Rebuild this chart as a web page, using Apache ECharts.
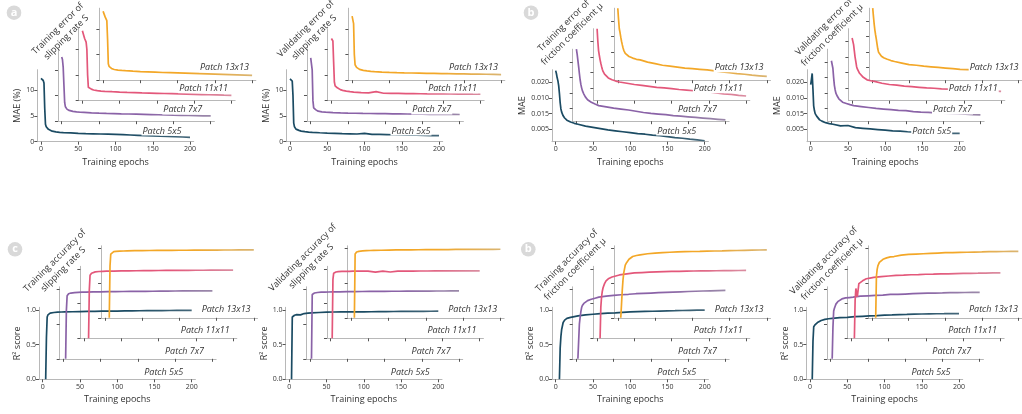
<!DOCTYPE html>
<html><head><meta charset="utf-8">
<script src="https://cdn.jsdelivr.net/npm/echarts/dist/echarts.min.js"></script>
<style>html,body{margin:0;padding:0;background:#fff}#c{width:1022px;height:414px}</style>
</head><body><div id="c"></div>
<script>
// ---------- DATA ----------
const EPOCHS = [0,1,2,3,4,5,6,7,8,10,12,15,20,25,30,40,50,60,70,80,90,100,110,120,130,140,150,160,170,180,190,200];
const PATCHES = ['Patch 5x5','Patch 7x7','Patch 11x11','Patch 13x13'];
const X_TICKS = [0,50,100,150,200];
const SLIP_TICKS = [0,5,10];
const FRIC_TICK_VALUES = [0.005,0.010,0.015,0.020];
const FRIC_TICK_LABELS = ['0.005','0.015','0.010','0.020'];
const R2_TICKS = [0,0.5,1.0];
const R2_TICK_LABELS = ['0.0','0.5','1.0'];

// Training error of slipping rate S (MAE %)
const TRAIN_ERR_S_5 = [12.3,12.2,12.1,11.9,11.4,6.5,3.4,2.9,2.65,2.4,2.2,2.05,1.9,1.82,1.76,1.7,1.63,1.58,1.54,1.5,1.46,1.42,1.36,1.3,1.24,1.18,1.12,1.06,1.01,0.96,0.91,0.86];
const TRAIN_ERR_S_7 = [12.5,12.0,10.5,7.0,3.6,2.8,2.5,2.35,2.25,2.1,2.0,1.9,1.8,1.74,1.7,1.62,1.56,1.51,1.47,1.43,1.4,1.37,1.33,1.29,1.25,1.21,1.17,1.14,1.11,1.08,1.05,1.02];
const TRAIN_ERR_S_11 = [13.6,13.3,12.6,12.1,11.8,11.4,10.0,5.0,2.6,2.4,2.25,2.08,1.95,1.88,1.83,1.75,1.68,1.62,1.57,1.52,1.48,1.44,1.4,1.36,1.32,1.28,1.24,1.2,1.16,1.12,1.08,1.05];
const TRAIN_ERR_S_13 = [13.4,13.0,12.6,12.2,11.9,11.6,8.0,3.2,2.7,2.4,2.22,2.08,1.96,1.9,1.85,1.76,1.68,1.62,1.56,1.5,1.47,1.44,1.39,1.34,1.29,1.24,1.19,1.14,1.09,1.04,0.99,0.94];
// Validating error of slipping rate S (MAE %)
const VAL_ERR_S_5 = [12.2,12.1,12.0,11.8,9.0,3.6,2.9,2.6,2.45,2.3,2.2,2.05,1.95,1.88,1.82,1.74,1.68,1.63,1.58,1.54,1.5,1.62,1.44,1.41,1.38,1.35,1.32,1.29,1.26,1.23,1.2,1.17];
const VAL_ERR_S_7 = [12.3,12.0,10.0,4.0,2.6,2.4,2.3,2.2,2.1,1.95,1.88,1.82,1.75,1.72,1.68,1.62,1.58,1.55,1.52,1.5,1.48,1.46,1.44,1.42,1.4,1.38,1.36,1.34,1.33,1.32,1.31,1.3];
const VAL_ERR_S_11 = [12.1,12.0,11.6,7.5,3.6,2.9,2.7,2.6,2.5,2.3,2.15,2.0,1.85,1.75,1.68,1.58,1.52,1.75,1.45,1.43,1.41,1.39,1.37,1.35,1.33,1.32,1.31,1.3,1.29,1.28,1.26,1.25];
const VAL_ERR_S_13 = [12.45,12.2,11.0,5.0,3.0,2.7,2.5,2.4,2.3,2.1,2.0,1.9,1.8,1.72,1.66,1.58,1.52,1.47,1.43,1.4,1.37,1.34,1.31,1.28,1.26,1.24,1.22,1.2,1.18,1.16,1.13,1.1];
// Training error of friction coefficient (MAE)
const TRAIN_ERR_F_5 = [0.0238,0.0228,0.0215,0.0205,0.0190,0.0165,0.0135,0.0115,0.0105,0.0093,0.0086,0.0079,0.0073,0.0069,0.0066,0.0060,0.0056,0.0052,0.0048,0.0045,0.0042,0.0039,0.0036,0.0034,0.0031,0.0029,0.0026,0.0023,0.0021,0.0018,0.0016,0.0013];
const TRAIN_ERR_F_7 = [0.0241,0.0225,0.0205,0.0185,0.0163,0.0143,0.0128,0.0117,0.0108,0.0097,0.0088,0.0079,0.0071,0.0065,0.0060,0.0056,0.0052,0.0049,0.0046,0.0042,0.0038,0.0035,0.0033,0.0031,0.0028,0.0026,0.0024,0.0022,0.0020,0.0018,0.0016,0.0014];
const TRAIN_ERR_F_11 = [0.0241,0.0200,0.0170,0.0155,0.0141,0.0130,0.0120,0.0111,0.0104,0.0095,0.0089,0.0083,0.0077,0.0073,0.0070,0.0066,0.0062,0.0059,0.0056,0.0053,0.0051,0.0049,0.0046,0.0044,0.0042,0.0040,0.0038,0.0035,0.0032,0.0030,0.0027,0.0025];
const TRAIN_ERR_F_13 = [0.0241,0.0205,0.0175,0.0163,0.0148,0.0135,0.0124,0.0114,0.0106,0.0096,0.0091,0.0086,0.0081,0.0077,0.0075,0.0068,0.0063,0.0058,0.0055,0.0052,0.0049,0.0047,0.0045,0.0043,0.0040,0.0037,0.0034,0.0031,0.0029,0.0026,0.0024,0.0022];
// Validating error of friction coefficient (MAE)
const VAL_ERR_F_5 = [0.0193,0.0210,0.0229,0.0180,0.0125,0.0110,0.0100,0.0095,0.0092,0.0086,0.0080,0.0076,0.0071,0.0068,0.0066,0.0061,0.0062,0.0055,0.0053,0.0051,0.0049,0.0047,0.0045,0.0044,0.0042,0.0041,0.0040,0.0039,0.0039,0.0038,0.0037,0.0037];
const VAL_ERR_F_7 = [0.0204,0.0200,0.0180,0.0150,0.0125,0.0111,0.0100,0.0104,0.0090,0.0082,0.0076,0.0071,0.0067,0.0063,0.0060,0.0057,0.0054,0.0051,0.0049,0.0047,0.0045,0.0044,0.0041,0.0039,0.0038,0.0037,0.0036,0.0035,0.0034,0.0033,0.0031,0.0030];
const VAL_ERR_F_11 = [0.0211,0.0205,0.0190,0.0170,0.0150,0.0135,0.0120,0.0112,0.0106,0.0098,0.0092,0.0085,0.0077,0.0074,0.0072,0.0066,0.0062,0.0060,0.0057,0.0055,0.0053,0.0051,0.0050,0.0048,0.0047,0.0046,0.0045,0.0044,0.0043,0.0042,0.0041,0.0040];
const VAL_ERR_F_13 = [0.0241,0.0215,0.0190,0.0170,0.0155,0.0141,0.0125,0.0110,0.0100,0.0095,0.0087,0.0082,0.0077,0.0073,0.0070,0.0065,0.0060,0.0058,0.0055,0.0053,0.0051,0.0049,0.0047,0.0045,0.0044,0.0043,0.0042,0.0041,0.0041,0.0040,0.0039,0.0039];
// Training accuracy of slipping rate S (R2)
const TRAIN_ACC_S_5 = [null,null,null,null,0,0.6,0.9,0.93,0.945,0.955,0.96,0.965,0.97,0.972,0.974,0.976,0.978,0.98,0.982,0.984,0.985,0.986,0.988,0.989,0.99,0.991,0.992,0.993,0.994,0.995,0.996,0.997];
const TRAIN_ACC_S_7 = [null,null,null,0,0.7,0.91,0.93,0.94,0.945,0.95,0.953,0.956,0.96,0.962,0.964,0.966,0.968,0.97,0.971,0.972,0.973,0.974,0.975,0.976,0.977,0.978,0.979,0.98,0.98,0.981,0.981,0.982];
const TRAIN_ACC_S_11 = [null,null,null,null,null,null,0,0.7,0.91,0.94,0.955,0.96,0.965,0.967,0.969,0.971,0.973,0.975,0.976,0.977,0.978,0.979,0.98,0.981,0.981,0.982,0.983,0.983,0.984,0.984,0.985,0.985];
const TRAIN_ACC_S_13 = [null,null,null,null,null,null,0,0.75,0.92,0.945,0.955,0.96,0.963,0.965,0.967,0.969,0.971,0.972,0.973,0.974,0.975,0.976,0.976,0.977,0.977,0.978,0.978,0.979,0.979,0.98,0.98,0.98];
// Validating accuracy of slipping rate S (R2)
const VAL_ACC_S_5 = [null,null,null,0,0.9,0.91,0.92,0.925,0.93,0.935,0.94,0.93,0.95,0.955,0.96,0.965,0.97,0.972,0.973,0.974,0.975,0.975,0.976,0.977,0.978,0.979,0.98,0.98,0.981,0.982,0.983,0.985];
const VAL_ACC_S_7 = [null,null,0,0.93,0.94,0.945,0.95,0.952,0.955,0.958,0.96,0.962,0.964,0.965,0.966,0.968,0.97,0.971,0.972,0.973,0.974,0.975,0.976,0.976,0.977,0.977,0.978,0.978,0.979,0.979,0.98,0.98];
const VAL_ACC_S_11 = [null,null,0,0.85,0.94,0.95,0.955,0.958,0.96,0.963,0.965,0.966,0.967,0.968,0.969,0.97,0.97,0.955,0.97,0.958,0.97,0.971,0.971,0.972,0.972,0.973,0.973,0.974,0.974,0.975,0.975,0.975];
const VAL_ACC_S_13 = [null,null,null,null,0,0.92,0.945,0.95,0.955,0.96,0.963,0.966,0.97,0.972,0.974,0.976,0.978,0.98,0.981,0.982,0.983,0.984,0.985,0.986,0.986,0.987,0.987,0.988,0.988,0.989,0.989,0.99];
// Training accuracy of friction coefficient (R2)
const TRAIN_ACC_F_5 = [null,null,null,null,null,0,0.45,0.62,0.72,0.82,0.855,0.88,0.895,0.905,0.915,0.93,0.94,0.95,0.955,0.96,0.967,0.973,0.977,0.98,0.983,0.986,0.989,0.991,0.994,0.996,0.998,1.0];
const TRAIN_ACC_F_7 = [null,null,0,0.25,0.5,0.6,0.68,0.74,0.77,0.8,0.82,0.84,0.86,0.875,0.89,0.905,0.915,0.925,0.932,0.94,0.945,0.95,0.955,0.96,0.964,0.968,0.972,0.976,0.979,0.982,0.985,0.987];
const TRAIN_ACC_F_11 = [null,null,null,null,0,0.45,0.6,0.68,0.73,0.79,0.83,0.86,0.885,0.9,0.915,0.93,0.945,0.95,0.955,0.96,0.963,0.966,0.968,0.97,0.972,0.974,0.975,0.976,0.977,0.978,0.979,0.98];
const TRAIN_ACC_F_13 = [null,null,null,null,0,0.2,0.4,0.55,0.65,0.76,0.8,0.845,0.885,0.9,0.91,0.925,0.935,0.942,0.947,0.951,0.955,0.958,0.96,0.963,0.965,0.967,0.97,0.972,0.975,0.977,0.979,0.98];
// Validating accuracy of friction coefficient (R2)
const VAL_ACC_F_5 = [null,null,null,0,0.55,0.76,0.78,0.79,0.8,0.82,0.835,0.85,0.865,0.875,0.88,0.89,0.895,0.905,0.91,0.915,0.92,0.928,0.93,0.935,0.937,0.94,0.943,0.945,0.947,0.948,0.95,0.95];
const VAL_ACC_F_7 = [null,null,0,0.45,0.69,0.73,0.76,0.79,0.81,0.83,0.855,0.865,0.88,0.885,0.89,0.905,0.91,0.915,0.92,0.93,0.93,0.935,0.94,0.945,0.95,0.95,0.952,0.955,0.957,0.958,0.96,0.96];
const VAL_ACC_F_11 = [null,null,null,null,0,0.55,0.72,0.74,0.6,0.79,0.81,0.83,0.86,0.87,0.88,0.89,0.9,0.91,0.912,0.918,0.92,0.925,0.927,0.93,0.932,0.935,0.937,0.939,0.94,0.942,0.944,0.945];
const VAL_ACC_F_13 = [null,null,null,null,null,0,0.6,0.7,0.75,0.8,0.82,0.845,0.865,0.88,0.885,0.905,0.915,0.92,0.925,0.93,0.935,0.94,0.942,0.945,0.947,0.95,0.952,0.955,0.957,0.958,0.959,0.96];

// ---------- LAYOUT / STYLE ----------
const COLORS = ['#1b4b63','#8a62a7','#e3577a','#f3a727'];
const FADES  = ['#46687a','#9b8aa9','#d98fa2','#d9b574'];
const FONT = '"Open Sans", "Liberation Sans", sans-serif';
const SX = 149/200, XMIN = -5, XMAX = 205, DX = 20.7, DY = 20.5, GH = 72;

const KINDS = {
  slip: {min:0, max:14, ticks:SLIP_TICKS, fmt:v=>String(v), name:'MAE (%)', gap:12},
  fric: {min:0.001, max:0.0241, ticks:FRIC_TICK_VALUES, fmt:v=>{const i=FRIC_TICK_VALUES.findIndex(t=>Math.abs(t-v)<1e-9);return i>=0?FRIC_TICK_LABELS[i]:'';}, name:'MAE', gap:21},
  r2:   {min:0, max:1.04, ticks:R2_TICKS, fmt:v=>{const i=R2_TICKS.findIndex(t=>Math.abs(t-v)<1e-9);return i>=0?R2_TICK_LABELS[i]:'';}, name:'R\u00b2 score', gap:15}
};

const PANELS = [
  {x0:41,    y0:141.7, kind:'slip', row:0, title:'Training error of\nslipping rate S', tx:62, ty:33, data:[TRAIN_ERR_S_5,TRAIN_ERR_S_7,TRAIN_ERR_S_11,TRAIN_ERR_S_13]},
  {x0:290,   y0:141.7, kind:'slip', row:0, title:'Validating error of\nslipping rate S', tx:310, ty:33, data:[VAL_ERR_S_5,VAL_ERR_S_7,VAL_ERR_S_11,VAL_ERR_S_13]},
  {x0:555.7, y0:141.7, kind:'fric', row:0, title:'Training error of\nfriction coefficient \u03bc', tx:568, ty:30, data:[TRAIN_ERR_F_5,TRAIN_ERR_F_7,TRAIN_ERR_F_11,TRAIN_ERR_F_13]},
  {x0:810.7, y0:141.7, kind:'fric', row:0, title:'Validating error of\nfriction coefficient \u03bc', tx:828, ty:31, data:[VAL_ERR_F_5,VAL_ERR_F_7,VAL_ERR_F_11,VAL_ERR_F_13]},
  {x0:42.7,  y0:379.3, kind:'r2', row:1, title:'Training accuracy of\nslipping rate S', tx:59, ty:265, data:[TRAIN_ACC_S_5,TRAIN_ACC_S_7,TRAIN_ACC_S_11,TRAIN_ACC_S_13]},
  {x0:289.3, y0:379.3, kind:'r2', row:1, title:'Validating accuracy of\nslipping rate S', tx:307, ty:262, data:[VAL_ACC_S_5,VAL_ACC_S_7,VAL_ACC_S_11,VAL_ACC_S_13]},
  {x0:555.7, y0:379.3, kind:'r2', row:1, title:'Training accuracy of\nfriction coefficient \u03bc', tx:571, ty:265, data:[TRAIN_ACC_F_5,TRAIN_ACC_F_7,TRAIN_ACC_F_11,TRAIN_ACC_F_13]},
  {x0:810,   y0:379.3, kind:'r2', row:1, title:'Validating accuracy of\nfriction coefficient \u03bc', tx:828, ty:265, data:[VAL_ACC_F_5,VAL_ACC_F_7,VAL_ACC_F_11,VAL_ACC_F_13]}
];
const BADGES = [
  {t:'a', x:14, y:12.7}, {t:'b', x:531, y:12.7}, {t:'c', x:15, y:249.3}, {t:'b', x:528.3, y:249.3}
];

// ---------- BUILD ----------
const grid = [], xAxis = [], yAxis = [], series = [], graphic = [];
let gi = 0;
PANELS.forEach(p => {
  const K = KINDS[p.kind];
  for (let k = 0; k < 4; k++) {
    const gx0 = p.x0 + k*DX, gy0 = p.y0 - k*DY;
    const main = k === 0;
    grid.push({left: gx0 + XMIN*SX, top: gy0 - GH, width: (XMAX-XMIN)*SX, height: GH, containLabel:false});
    xAxis.push({
      gridIndex: gi, type:'value', min:XMIN, max:XMAX,
      axisLine:{onZero:false, lineStyle:{color:'#b8b8b8', width:1}},
      axisTick:{show:true, length:3, customValues:X_TICKS, lineStyle:{color:'#555', width:1}},
      axisLabel: main ? {show:true, customValues:X_TICKS, fontSize:7, color:'#333', margin:4, fontFamily:FONT} : {show:false},
      splitLine:{show:false},
      name: main ? 'Training epochs' : '', nameLocation:'middle', nameGap:16,
      nameTextStyle:{fontSize:9, color:'#333', fontFamily:FONT}
    });
    yAxis.push({
      gridIndex: gi, type:'value', min:K.min, max:K.max,
      axisLine:{show:true, onZero:false, lineStyle:{color:'#b8b8b8', width:1}},
      axisTick:{show:true, length:3, customValues:K.ticks, lineStyle:{color:'#555', width:1}},
      axisLabel: main ? {show:true, customValues:K.ticks, formatter:K.fmt, fontSize:7, color:'#333', margin:3, fontFamily:FONT} : {show:false},
      splitLine:{show:false},
      name: main ? K.name : '', nameLocation:'middle', nameGap:K.gap,
      nameTextStyle:{fontSize:9, color:'#333', fontFamily:FONT}
    });
    const vals = p.data[k];
    series.push({
      type:'line', xAxisIndex:gi, yAxisIndex:gi, showSymbol:false, symbol:'none', clip:true,
      data: EPOCHS.map((e,i) => [e, vals[i]]).filter(d => d[1] !== null),
      lineStyle:{width:1.7, color:{type:'linear', x:0, y:0, x2:1, y2:0,
        colorStops:[{offset:0,color:COLORS[k]},{offset:0.55,color:COLORS[k]},{offset:1,color:FADES[k]}]}},
      z: 2 + k
    });
    const cx = p.x0 + 121 + k*20.8;
    const cy = p.row === 0 ? p.y0 - 10.7 - k*21.1 : p.y0 - 7 - k*20.8;
    graphic.push({type:'text', x:cx, y:cy, z:50,
      style:{text:PATCHES[k], font:'italic 9px ' + FONT, fill:'#333', align:'center', verticalAlign:'middle', lineHeight:9, backgroundColor:'#fff', padding:[0,1]}});
    gi++;
  }
  graphic.push({type:'text', x:p.tx, y:p.ty, rotation:Math.PI/4, z:60,
    style:{text:p.title, font:'9px ' + FONT, fill:'#333', align:'center', verticalAlign:'middle', lineHeight:12}});
});
BADGES.forEach(b => {
  graphic.push({type:'circle', shape:{cx:b.x, cy:b.y, r:7.3}, style:{fill:'#d9d9d9'}, z:60});
  graphic.push({type:'text', x:b.x, y:b.y, z:61, style:{text:b.t, font:'bold 11px ' + FONT, fill:'#fff', align:'center', verticalAlign:'middle'}});
});

const chart = echarts.init(document.getElementById('c'), null, {renderer:'canvas'});
chart.setOption({
  animation:false, backgroundColor:'#fff',
  textStyle:{fontFamily:FONT},
  grid, xAxis, yAxis, series, graphic
});
</script></body></html>
